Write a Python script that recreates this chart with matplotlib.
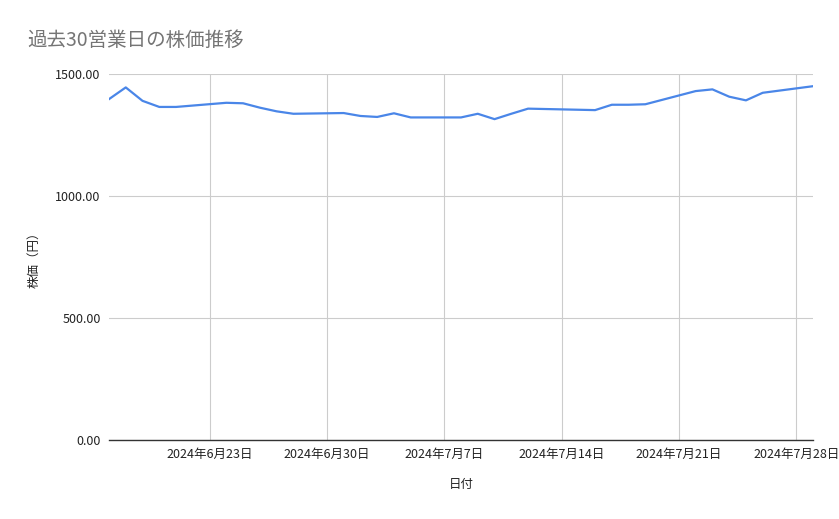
import numpy as np
import pandas as pd
import matplotlib
matplotlib.use("Agg")
import matplotlib.pyplot as plt
import matplotlib.dates as mdates

plt.rcParams['font.family'] = ['Noto Sans CJK JP', 'DejaVu Sans']

# 30 business days (7/15 is a holiday)
dates = ["2024-06-17", "2024-06-18", "2024-06-19", "2024-06-20", "2024-06-21",
         "2024-06-24", "2024-06-25", "2024-06-26", "2024-06-27", "2024-06-28",
         "2024-07-01", "2024-07-02", "2024-07-03", "2024-07-04", "2024-07-05",
         "2024-07-08", "2024-07-09", "2024-07-10", "2024-07-11", "2024-07-12",
         "2024-07-16", "2024-07-17", "2024-07-18", "2024-07-19",
         "2024-07-22", "2024-07-23", "2024-07-24", "2024-07-25", "2024-07-26",
         "2024-07-29"]
prices = [1397, 1445, 1390, 1365, 1365,
          1382, 1380, 1362, 1347, 1337,
          1340, 1328, 1324, 1339, 1322,
          1322, 1337, 1315, 1337, 1358,
          1352, 1374, 1374, 1376,
          1430, 1437, 1407, 1392, 1423,
          1450]
tick_dates = ["2024-06-23", "2024-06-30", "2024-07-07", "2024-07-14",
              "2024-07-21", "2024-07-28"]
y_ticks = [0, 500, 1000, 1500]

x = pd.to_datetime(dates)
ticks = pd.to_datetime(tick_dates)

fig = plt.figure(figsize=(8.39, 5.19), dpi=100)
ax = fig.add_axes([109/839, 1 - 440/519, (813 - 109)/839, (440 - 74)/519])

ax.plot(x, prices, color='#4a86e8', linewidth=1.6, zorder=3)

ax.set_xlim(pd.Timestamp("2024-06-17"), pd.Timestamp("2024-07-29"))
ax.set_ylim(0, 1500)
ax.set_yticks(y_ticks)
ax.set_yticklabels([f"{v:.2f}" for v in y_ticks])
ax.set_xticks(ticks)
ax.set_xticklabels([f"{d.year}年{d.month}月{d.day}日" for d in ticks])

ax.grid(True, color='#cccccc', linewidth=0.8)
ax.tick_params(length=0, labelsize=9, colors='#222222', pad=6)
for s in ['top', 'right', 'left']:
    ax.spines[s].set_visible(False)
ax.spines['bottom'].set_color('#333333')
ax.spines['bottom'].set_linewidth(1.0)

ax.set_xlabel("日付", fontsize=9, labelpad=12, color='#222222')
ax.set_ylabel("株価（円）", fontsize=9, labelpad=11, color='#222222')
fig.text(27/839, 1 - 40/519, "過去30営業日の株価推移", fontsize=14,
         color='#757575', va='center', ha='left')

fig.savefig("out.png", dpi=100)
